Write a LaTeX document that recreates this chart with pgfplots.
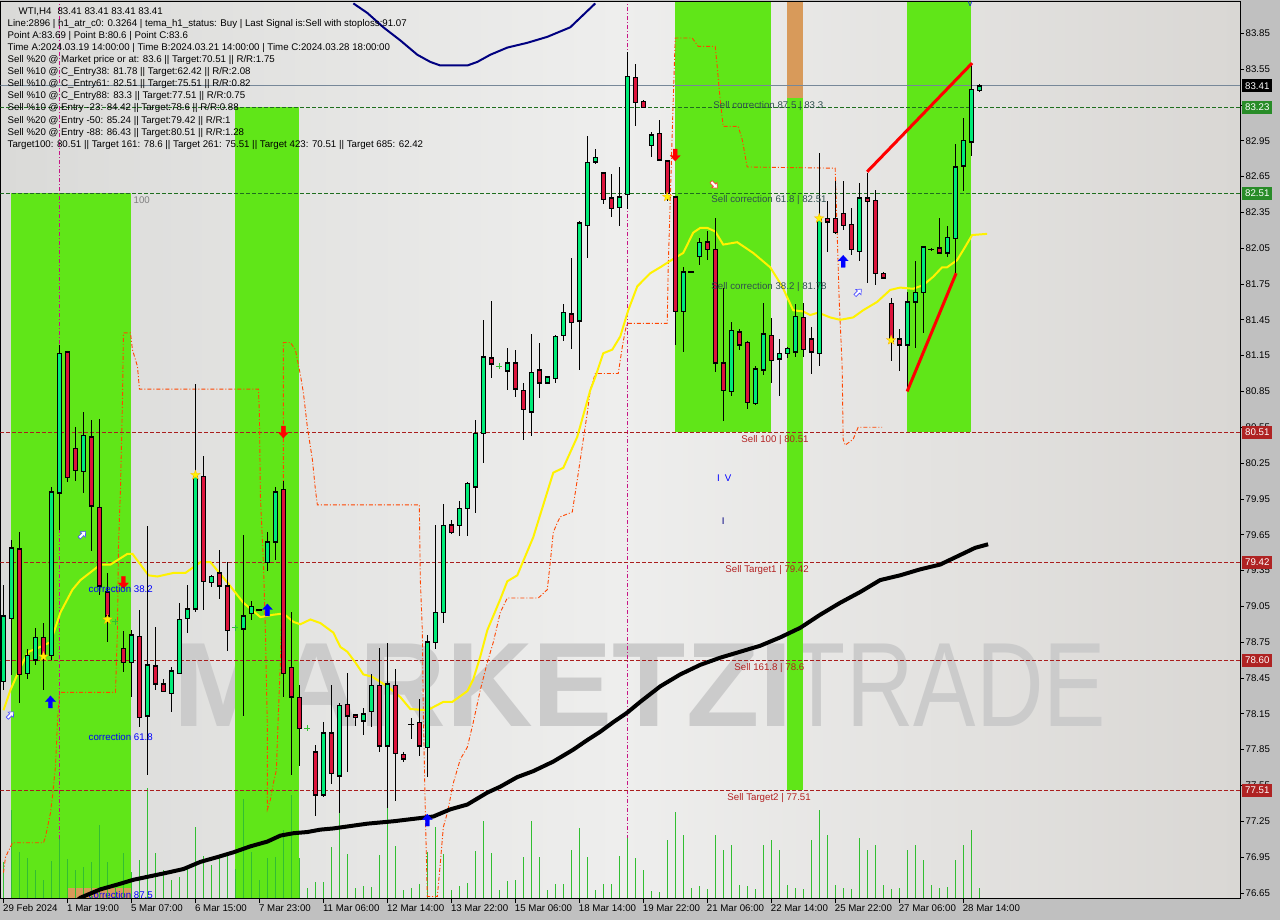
\documentclass[border=0pt]{standalone}
\usepackage{fontspec}
\setmainfont{Liberation Sans}
\usepackage{pgfplots}
\usepackage{pgfplotstable}
\pgfplotsset{compat=1.18}

\definecolor{outerbg}{RGB}{192,192,192}
\definecolor{bgL}{RGB}{218,218,216}
\definecolor{bgM}{RGB}{238,238,237}
\definecolor{bgR}{RGB}{217,215,212}
\definecolor{bandgreen}{RGB}{96,230,24}
\definecolor{bandorange}{RGB}{216,154,90}
\definecolor{upgreen}{RGB}{0,235,120}
\definecolor{downred}{RGB}{220,20,60}
\definecolor{volgreen}{RGB}{50,190,50}
\definecolor{dkgreen}{RGB}{30,110,30}
\definecolor{dkred}{RGB}{170,30,30}
\definecolor{slateline}{RGB}{119,136,153}
\definecolor{magline}{RGB}{199,21,133}
\definecolor{trail}{RGB}{255,69,0}
\definecolor{navyline}{RGB}{0,0,128}
\definecolor{wmark}{RGB}{203,203,203}
\definecolor{labgray}{RGB}{47,79,79}
\definecolor{boxgreen}{RGB}{40,140,40}
\definecolor{boxred}{RGB}{175,35,35}
\definecolor{sellred}{RGB}{178,34,34}

\pgfdeclareplotmark{arrowup}{%
  \pgfpathmoveto{\pgfqpoint{0pt}{6pt}}%
  \pgfpathlineto{\pgfqpoint{5pt}{0.5pt}}%
  \pgfpathlineto{\pgfqpoint{2pt}{0.5pt}}%
  \pgfpathlineto{\pgfqpoint{2pt}{-6pt}}%
  \pgfpathlineto{\pgfqpoint{-2pt}{-6pt}}%
  \pgfpathlineto{\pgfqpoint{-2pt}{0.5pt}}%
  \pgfpathlineto{\pgfqpoint{-5pt}{0.5pt}}%
  \pgfpathclose\pgfusepathqfillstroke}
\pgfdeclareplotmark{fstar}{%
  \pgfpathmoveto{\pgfqpoint{0pt}{5pt}}%
  \pgfpathlineto{\pgfqpoint{-1.176pt}{1.618pt}}%
  \pgfpathlineto{\pgfqpoint{-4.755pt}{1.545pt}}%
  \pgfpathlineto{\pgfqpoint{-1.902pt}{-0.618pt}}%
  \pgfpathlineto{\pgfqpoint{-2.939pt}{-4.045pt}}%
  \pgfpathlineto{\pgfqpoint{0pt}{-2pt}}%
  \pgfpathlineto{\pgfqpoint{2.939pt}{-4.045pt}}%
  \pgfpathlineto{\pgfqpoint{1.902pt}{-0.618pt}}%
  \pgfpathlineto{\pgfqpoint{4.755pt}{1.545pt}}%
  \pgfpathlineto{\pgfqpoint{1.176pt}{1.618pt}}%
  \pgfpathclose\pgfusepathqfillstroke}

\pgfplotsset{
  keepup/.style={restrict expr to domain={\thisrow{t}}{0.5:1.5}},
  keepdown/.style={restrict expr to domain={\thisrow{t}}{1.5:2.5}},
  keepdoji/.style={restrict expr to domain={\thisrow{t}}{2.5:3.5}},
  keepplus/.style={restrict expr to domain={\thisrow{t}}{3.5:4.5}},
  chartgeom/.style={width=1240pt, height=897pt, scale only axis,
    at={(0pt,21pt)}, anchor=south west, xmin=-0.375, xmax=154.625},
}

% t: 1 = up candle, 2 = down candle, 3 = doji, 4 = small green cross
\pgfplotstableread{
i o h l c t
0 78.42 79.23 78.35 78.97 1
1 78.95 79.61 78.48 79.54 1
2 79.53 79.67 78.24 78.48 2
3 78.49 78.69 78.44 78.64 1
4 78.60 78.87 78.56 78.79 1
5 78.79 78.91 78.35 78.63 2
6 78.64 80.05 78.60 80.01 1
7 80.00 81.24 79.69 81.17 1
8 81.18 81.19 80.09 80.13 2
9 80.37 80.55 80.10 80.19 2
10 80.18 80.68 80.00 80.48 1
11 80.47 80.61 79.51 79.89 2
12 79.88 80.62 79.15 79.22 2
13 79.17 79.33 78.75 78.97 2
14 78.92 78.93 78.91 78.92 4
15 78.70 78.84 78.50 78.58 2
16 78.58 78.85 78.29 78.81 1
17 78.80 79.02 78.04 78.12 2
18 78.13 79.72 77.64 78.56 1
19 78.55 78.88 78.35 78.40 2
20 78.40 78.44 78.33 78.34 2
21 78.32 78.54 78.17 78.51 1
22 78.49 79.08 78.48 78.94 1
23 78.95 79.23 78.83 79.03 1
24 79.03 80.91 79.00 80.14 1
25 80.14 80.31 79.02 79.26 2
26 79.25 79.31 79.21 79.30 1
27 79.33 79.52 79.11 79.22 2
28 79.22 79.42 78.68 78.85 2
29 78.87 78.88 78.86 78.87 4
30 78.86 79.65 78.13 78.97 1
31 78.99 79.10 78.94 79.05 1
32 79.02 79.03 79.01 79.02 3
33 79.42 79.67 79.35 79.59 1
34 79.59 80.05 79.44 80.01 1
35 80.03 80.10 78.29 78.49 2
36 78.54 79.00 77.64 78.29 2
37 78.29 78.39 77.71 78.03 2
38 78.03 78.04 78.02 78.03 4
39 77.83 77.89 77.29 77.47 2
40 77.47 78.08 77.45 77.99 1
41 77.99 78.39 77.56 77.65 2
42 77.63 78.24 77.32 78.22 1
43 78.23 78.49 77.66 78.13 2
44 78.14 78.15 78.05 78.12 2
45 78.09 78.20 77.97 78.15 1
46 78.17 78.48 78.04 78.39 1
47 78.39 78.70 77.83 77.88 2
48 77.88 78.74 77.36 78.40 1
49 78.39 78.53 77.42 77.82 2
50 77.81 77.83 77.75 77.77 2
51 78.06 78.12 77.94 78.06 3
52 78.08 78.27 77.80 77.88 2
53 77.87 78.81 77.62 78.75 1
54 78.75 79.73 78.69 79.00 1
55 79.00 79.91 78.91 79.73 1
56 79.73 79.77 79.66 79.67 2
57 79.73 79.93 79.64 79.87 1
58 79.87 80.09 79.64 80.08 1
59 80.05 80.61 79.83 80.50 1
60 80.50 81.45 80.25 81.14 1
61 81.13 81.61 80.96 81.08 2
62 81.06 81.07 81.05 81.06 4
63 81.02 81.21 80.86 81.09 1
64 81.09 81.20 80.80 80.87 2
65 80.86 80.92 80.44 80.70 2
66 80.68 81.33 80.48 81.01 1
67 81.03 81.26 80.80 80.92 2
68 80.92 80.98 80.91 80.97 1
69 80.96 81.32 80.92 81.31 1
70 81.32 81.58 81.27 81.51 1
71 81.50 81.97 81.21 81.43 2
72 81.44 82.28 81.03 82.26 1
73 82.24 82.99 81.97 82.77 1
74 82.77 82.88 82.76 82.81 1
75 82.68 82.69 82.42 82.46 2
76 82.47 82.67 82.31 82.38 2
77 82.39 82.73 82.24 82.48 1
78 82.50 83.69 82.38 83.49 1
79 83.48 83.59 83.07 83.27 2
80 83.28 83.29 83.22 83.23 2
81 82.91 83.02 82.81 83.00 1
82 83.01 83.12 82.78 82.79 2
83 82.78 82.79 82.45 82.51 2
84 82.48 82.49 81.24 81.52 2
85 81.52 81.89 81.18 81.85 1
86 81.85 81.86 81.84 81.85 3
87 81.98 82.14 81.91 82.10 1
88 82.10 82.19 81.95 82.04 2
89 82.04 82.30 81.01 81.09 2
90 81.09 81.72 80.60 80.86 2
91 80.85 81.43 80.81 81.36 1
92 81.35 81.37 81.20 81.24 2
93 81.26 81.27 80.70 80.76 2
94 80.75 81.06 80.74 81.04 1
95 81.03 81.59 80.99 81.33 1
96 81.32 81.47 80.92 81.11 2
97 81.12 81.29 80.81 81.17 1
98 81.17 81.22 81.13 81.21 1
99 81.18 81.58 81.14 81.48 1
100 81.47 81.59 81.14 81.20 2
101 81.29 81.39 81.00 81.18 2
102 81.17 82.85 81.06 82.30 1
103 82.30 82.45 82.02 82.27 2
104 82.30 82.61 82.17 82.18 2
105 82.34 82.61 82.20 82.24 2
106 82.25 82.39 81.99 82.04 2
107 82.02 82.60 81.94 82.47 1
108 82.47 82.68 81.76 82.44 2
109 82.45 82.54 81.74 81.84 2
110 81.84 81.85 81.79 81.80 2
111 81.59 81.63 81.11 81.27 2
112 81.29 81.37 81.02 81.24 2
113 81.24 81.68 80.86 81.60 1
114 81.60 81.94 81.21 81.68 1
115 81.68 82.07 81.34 82.06 1
116 82.04 82.05 82.03 82.04 3
117 82.05 82.30 82.00 82.01 2
118 82.01 82.24 81.98 82.14 1
119 82.13 82.92 81.84 82.73 1
120 82.74 83.14 82.53 82.95 1
121 82.94 83.60 82.82 83.38 1
122 83.37 83.43 83.36 83.41 1
}\candles

\pgfplotstableread{
i v
0 37
1 89
2 47
3 41
4 29
5 19
6 38
7 60
8 40
9 29
10 32
11 37
12 74
13 37
14 11
15 46
16 27
17 39
18 111
19 46
20 29
21 19
22 22
23 31
24 72
25 43
26 34
27 41
28 47
29 30
30 100
31 47
32 19
33 41
34 42
35 69
36 104
37 41
38 11
39 17
40 17
41 52
42 86
43 45
44 11
45 13
46 12
47 44
48 91
49 53
50 9
51 11
52 15
53 47
54 72
55 45
56 9
57 13
58 16
59 48
60 78
61 46
62 9
63 18
64 19
65 42
66 78
67 42
68 9
69 15
70 15
71 49
72 71
73 42
74 9
75 15
76 15
77 43
78 61
79 41
80 29
81 8
82 7
83 59
84 87
85 64
86 11
87 13
88 10
89 64
90 49
91 54
92 14
93 13
94 10
95 54
96 59
97 49
98 14
99 11
100 10
101 59
102 89
103 64
104 14
105 11
106 10
107 61
108 49
109 54
110 14
111 10
112 11
113 49
114 54
115 39
116 14
117 11
118 12
119 39
120 54
121 69
122 11
}\volumes

\begin{document}
\begin{tikzpicture}[x=1pt,y=1pt]
\fill[outerbg] (0,0) rectangle (1280,920);
\shade[left color=bgL, right color=bgR, middle color=bgM] (0,21) rectangle (1240,918);

% ---------- layer 1: watermark, bands, verticals
\begin{axis}[chartgeom, ymin=76.602, ymax=84.112, hide axis]
\node[anchor=base west, inner sep=0pt, text=wmark, font=\fontsize{120}{120}\selectfont\bfseries] at (axis cs:21.2,78.04) {MARKETZI};
\node[anchor=base west, inner sep=0pt, text=wmark, font=\fontsize{120}{120}\selectfont, xscale=0.78] at (axis cs:98.2,78.04) {TRADE};
\addplot[fill=bandgreen, draw=none] coordinates {(1,76.5) (1,82.51) (16,82.51) (16,76.5)};
\addplot[fill=bandgreen, draw=none] coordinates {(29,76.5) (29,83.23) (37,83.23) (37,76.5)};
\addplot[fill=bandgreen, draw=none] coordinates {(84,80.51) (84,84.2) (96,84.2) (96,80.51)};
\addplot[fill=bandgreen, draw=none] coordinates {(98,77.51) (98,83.31) (100,83.31) (100,77.51)};
\addplot[fill=bandorange, draw=none] coordinates {(98,83.31) (98,84.2) (100,84.2) (100,83.31)};
\addplot[fill=bandgreen, draw=none] coordinates {(113,80.51) (113,84.2) (121,84.2) (121,80.51)};
\addplot[fill=bandorange, draw=none] coordinates {(8.125,76.5) (8.125,76.69) (16,76.69) (16,76.5)};
\addplot[magline, line width=1pt, dash pattern=on 4pt off 2pt on 1pt off 2pt] coordinates {(7,76.5) (7,84.2)};
\addplot[magline, line width=1pt, dash pattern=on 4pt off 2pt on 1pt off 2pt] coordinates {(78,76.5) (78,84.2)};
\node[anchor=west, inner sep=0pt, text=blue, font=\fontsize{9.7}{11}\selectfont] at (axis cs:10.625,76.636) {correction 87.5};
\end{axis}

% ---------- layer 2: volumes (shifted half a pixel so each line fills one pixel column)
\begin{axis}[chartgeom, ymin=0, ymax=897, hide axis]
\addplot[ycomb, color=volgreen, line width=1pt, mark=none] table[x expr={\thisrow{i}+0.0625}, y=v] {\volumes};
\end{axis}

% ---------- layer 3: price chart
\begin{axis}[chartgeom, ymin=76.602, ymax=84.112,
  clip mode=individual,
  axis line style={black, line width=1pt},
  tick align=outside, major tick length=4pt,
  tick style={black, line width=0.8pt},
  xtick pos=left, ytick pos=right, yticklabel pos=right,
  xtick={0,8,...,120},
  xticklabels={29 Feb 2024,1 Mar 19:00,5 Mar 07:00,6 Mar 15:00,7 Mar 23:00,11 Mar 06:00,12 Mar 14:00,13 Mar 22:00,15 Mar 06:00,18 Mar 14:00,19 Mar 22:00,21 Mar 06:00,22 Mar 14:00,25 Mar 22:00,27 Mar 06:00,28 Mar 14:00},
  ytick={76.65,76.95,77.25,77.55,77.85,78.15,78.45,78.75,79.05,79.35,79.65,79.95,80.25,80.55,80.85,81.15,81.45,81.75,82.05,82.35,82.65,82.95,83.25,83.55,83.85},
  /pgf/number format/assume math mode=true,
  yticklabel style={/pgf/number format/fixed, /pgf/number format/fixed zerofill, /pgf/number format/precision=2, anchor=west, inner sep=1.5pt},
  xticklabel style={anchor=north west, xshift=-2pt, inner sep=1.5pt},
  ticklabel style={font=\fontsize{9.7}{11}\selectfont, text=black},
]
% horizontal levels
\addplot[slateline, line width=1pt] coordinates {(-0.375,83.41) (154.625,83.41)};
\addplot[dkgreen, line width=1pt, dash pattern=on 4pt off 2pt] coordinates {(-0.375,83.23) (154.625,83.23)};
\addplot[dkgreen, line width=1pt, dash pattern=on 4pt off 2pt] coordinates {(-0.375,82.51) (154.625,82.51)};
\addplot[dkred, line width=1pt, dash pattern=on 4pt off 2pt] coordinates {(-0.375,80.51) (154.625,80.51)};
\addplot[dkred, line width=1pt, dash pattern=on 4pt off 2pt] coordinates {(-0.375,79.42) (154.625,79.42)};
\addplot[dkred, line width=1pt, dash pattern=on 4pt off 2pt] coordinates {(-0.375,78.60) (154.625,78.60)};
\addplot[dkred, line width=1pt, dash pattern=on 4pt off 2pt] coordinates {(-0.375,77.51) (154.625,77.51)};

% trailing stop step line
\addplot[trail, line width=0.9pt, dash pattern=on 4pt off 2pt on 1pt off 2pt] coordinates {
(0,76.82) (0.25,76.95) (1.125,77.07) (5,77.07) (5.25,77.12) (5.875,77.32) (6.125,77.46) (6.5,77.71) (6.75,78.08) (7,78.33) (14,78.33) (14.25,78.85) (14.375,79.55) (14.625,80.03) (14.875,80.76) (15,81.34) (15.875,81.34) (16.125,81.20) (16.75,81.06) (17,80.87) (31.875,80.87) (32,80.67) (32.125,79.97) (32.5,79.42) (32.75,78.85) (33,78.02) (33,77.35) (33.375,77.43) (33.75,77.57) (34.125,77.68) (34.375,78.16) (34.625,78.58) (34.875,79.27) (35,80.11) (35,81.26) (35.875,81.26) (36.5,81.20) (37.125,80.99) (37.5,80.84) (38,80.55) (38.625,80.28) (39,80.03) (39.25,79.90) (52,79.90) (52.125,79.27) (52.375,78.85) (52.5,78.16) (52.75,77.32) (53,76.62) (54.25,76.62) (54.625,76.90) (55,77.20) (55.5,77.32) (56.25,77.57) (57.125,77.77) (58,77.87) (58.75,78.08) (59.625,78.35) (60.5,78.58) (61.25,78.75) (62.125,79.00) (63,79.12) (66.875,79.12) (68,79.19) (68.375,79.42) (68.75,79.67) (69.25,79.75) (69.625,79.80) (71.125,79.84) (71.75,80.11) (72.375,80.39) (73,80.67) (73.375,80.86) (74,81.00) (76.875,81.00) (77.375,81.22) (77.75,81.36) (78,81.42) (83,81.42) (83.125,81.89) (83.375,82.45) (83.75,83.29) (84,83.81) (86.125,83.81) (86.875,83.74) (89,83.74) (89.25,83.57) (89.625,83.29) (90,83.07) (91.875,83.07) (92.375,82.96) (93,82.73) (104,82.72) (104.25,82.18) (104.5,81.62) (104.875,81.06) (105,80.45) (105.25,80.40) (106.25,80.45) (106.875,80.55) (109.875,80.55)};

% black long MA
\addplot[black, line width=4pt] coordinates {
(8.5,76.55) (9.625,76.61) (12.125,76.68) (14.25,76.72) (16.25,76.76) (18.375,76.79) (20.5,76.82) (22.5,76.85) (24.625,76.91) (26.75,76.95) (28.75,76.99) (30.875,77.04) (33,77.08) (34.625,77.13) (36.25,77.15) (38,77.16) (39.625,77.18) (41.25,77.19) (45.5,77.23) (48.75,77.25) (52.5,77.28) (53.75,77.29) (55.875,77.35) (58,77.39) (60.5,77.49) (62.125,77.54) (64.25,77.62) (66.25,77.67) (68.75,77.75) (71.25,77.85) (73,77.93) (74.625,78.00) (76.25,78.08) (78,78.16) (79.625,78.25) (82.125,78.38) (84.625,78.48) (87.125,78.56) (89.625,78.62) (92.125,78.67) (94.625,78.72) (97.125,78.79) (99.625,78.87) (102.125,78.98) (104.625,79.08) (107.125,79.17) (109.625,79.27) (112.125,79.31) (114.625,79.36) (117.125,79.40) (119.625,79.48) (121.5,79.54) (123.125,79.57)};

% yellow MA
\addplot[yellow, line width=2pt] coordinates {
(0,78.18) (0.875,78.35) (2.125,78.54) (3.125,78.67) (4.25,78.70) (5.875,78.75) (7.125,79.00) (8.625,79.19) (9.625,79.27) (12.125,79.40) (13.375,79.40) (15.5,79.49) (16.125,79.49) (18.125,79.31) (19.25,79.30) (21.25,79.33) (22.75,79.33) (24.625,79.42) (25.875,79.42) (28,79.25) (30,79.08) (32.125,78.96) (33.75,78.98) (35,78.99) (36.25,78.92) (37.125,78.90) (38.375,78.94) (39.625,78.91) (41.25,78.83) (42.125,78.71) (43,78.67) (44,78.58) (45,78.48) (46.125,78.46) (48,78.38) (49.625,78.29) (50.875,78.19) (53,78.18) (55,78.25) (56.125,78.25) (58,78.34) (58.75,78.44) (59.625,78.63) (60.5,78.85) (62.125,79.11) (63,79.26) (64.25,79.31) (66.25,79.63) (68.75,80.17) (70,80.21) (71.75,80.47) (73.375,80.86) (74,80.97) (75,81.17) (76.125,81.20) (77.125,81.31) (78.125,81.53) (79.25,81.73) (80.875,81.84) (82.125,81.89) (84,81.97) (85,82.01) (86.25,82.18) (87.125,82.22) (88,82.22) (89,82.19) (90,82.08) (91.75,82.10) (93.75,82.01) (95.875,81.89) (97.375,81.73) (98.75,81.53) (100,81.52) (100.875,81.49) (101.875,81.51) (103.375,81.47) (104.625,81.45) (106.25,81.47) (107.5,81.53) (109.25,81.60) (110.875,81.70) (112.125,81.72) (113.75,81.71) (115,81.74) (116.25,81.81) (117.375,81.89) (118,81.89) (119.25,81.95) (120.25,82.06) (121.125,82.16) (123,82.17)};

% navy line
\addplot[navyline, line width=2pt] coordinates {
(43.75,84.10) (45.5,84.02) (47.5,83.90) (49.625,83.79) (51.75,83.67) (53.375,83.61) (54.625,83.58) (56.125,83.58) (58,83.58) (59.25,83.61) (60.875,83.67) (63,83.73) (65.5,83.77) (68,83.82) (70.875,83.90) (72.125,83.98) (74,84.10)};

% candles: wicks
\addplot[draw=none, mark=none, error bars/.cd, y dir=both, y explicit, error mark=none,
  error bar style={draw=black, solid, line width=1pt}]
  table[x=i, y expr={(\thisrow{h}+\thisrow{l})/2}, y error expr={(\thisrow{h}-\thisrow{l})/2}] {\candles};
% bodies (outline)
\addplot[draw=none, mark=none, keepup, error bars/.cd, y dir=both, y explicit, error mark=none,
  error bar style={draw=black, solid, line width=5pt}]
  table[x=i, y expr={(\thisrow{o}+\thisrow{c})/2}, y error expr={abs(\thisrow{c}-\thisrow{o})/2+0.006}] {\candles};
\addplot[draw=none, mark=none, keepdown, error bars/.cd, y dir=both, y explicit, error mark=none,
  error bar style={draw=black, solid, line width=5pt}]
  table[x=i, y expr={(\thisrow{o}+\thisrow{c})/2}, y error expr={abs(\thisrow{c}-\thisrow{o})/2+0.006}] {\candles};
% bodies (fill)
\addplot[draw=none, mark=none, keepup, error bars/.cd, y dir=both, y explicit, error mark=none,
  error bar style={draw=upgreen, solid, line width=3pt}]
  table[x=i, y expr={(\thisrow{o}+\thisrow{c})/2}, y error expr={max(abs(\thisrow{c}-\thisrow{o})/2-0.006,0)}] {\candles};
\addplot[draw=none, mark=none, keepdown, error bars/.cd, y dir=both, y explicit, error mark=none,
  error bar style={draw=downred, solid, line width=3pt}]
  table[x=i, y expr={(\thisrow{o}+\thisrow{c})/2}, y error expr={max(abs(\thisrow{c}-\thisrow{o})/2-0.006,0)}] {\candles};
% doji
\addplot[only marks, mark=-, mark size=3pt, black, line width=1.2pt, keepdoji] table[x=i, y=c] {\candles};
\addplot[only marks, mark=+, mark size=3pt, volgreen, line width=1pt, keepplus] table[x=i, y=c] {\candles};

% red trend lines
\addplot[red, line width=3pt] coordinates {(108,82.69) (121.125,83.60)};
\addplot[red, line width=3pt] coordinates {(113,80.85) (119.125,81.84)};

% arrows and stars
\addplot[only marks, mark=arrowup, mark options={fill=blue, draw=blue, line width=0.3pt}] coordinates {(5.875,78.25) (33,79.02) (53,77.26) (105,81.94)};
\addplot[only marks, mark=arrowup, mark options={fill=red, draw=red, line width=0.3pt, rotate=180}] coordinates {(15,79.25) (35,80.51) (84,82.83)};
\addplot[only marks, mark=arrowup, mark options={fill=white, draw=blue!70, line width=0.6pt, rotate=-45, scale=0.75}] coordinates {(0.875,78.14) (9.875,79.65) (106.875,81.68)};
\addplot[only marks, mark=arrowup, mark options={fill=white, draw=red!80, line width=0.6pt, rotate=-135, scale=0.75}] coordinates {(88.875,82.58)};
\addplot[only marks, mark=fstar, mark options={fill=yellow, draw=orange!60!yellow, line width=0.3pt}] coordinates {(5,78.63) (13,78.94) (24,80.15) (83,82.48) (102,82.30) (111,81.28)};

% labels
\begin{scope}[every node/.style={inner sep=0pt, font=\fontsize{9.7}{11}\selectfont}]
\node[anchor=west, text=labgray] at (axis cs:88.75,83.24) {Sell correction 87.5 | 83.3};
\node[anchor=west, text=labgray] at (axis cs:88.5,82.454) {Sell correction 61.8 | 82.51};
\node[anchor=west, text=labgray] at (axis cs:88.5,81.726) {Sell correction 38.2 | 81.78};
\node[anchor=west, text=sellred] at (axis cs:92.25,80.445) {Sell 100 | 80.51};
\node[anchor=west, text=sellred] at (axis cs:90.25,79.357) {Sell Target1 | 79.42};
\node[anchor=west, text=sellred] at (axis cs:91.375,78.536) {Sell 161.8 | 78.6};
\node[anchor=west, text=sellred] at (axis cs:90.5,77.448) {Sell Target2 | 77.51};
\node[anchor=west, text=blue] at (axis cs:10.625,79.197) {correction 38.2};
\node[anchor=west, text=blue] at (axis cs:10.625,77.958) {correction 61.8};
\node[anchor=west, text=gray] at (axis cs:16.25,82.454) {100};
\node[anchor=center, text=blue] at (axis cs:90.125,80.127) {I\hspace{5pt}V};
\node[anchor=center, text=navyline] at (axis cs:90,79.76) {I};
\node[anchor=north, text=blue, font=\fontsize{7}{8}\selectfont] at (axis cs:120.875,84.112) {V};
\end{scope}

\coordinate (b1) at (axis cs:154.625,83.41);
\coordinate (b2) at (axis cs:154.625,83.23);
\coordinate (b3) at (axis cs:154.625,82.51);
\coordinate (b4) at (axis cs:154.625,80.51);
\coordinate (b5) at (axis cs:154.625,79.42);
\coordinate (b6) at (axis cs:154.625,78.60);
\coordinate (b7) at (axis cs:154.625,77.51);
\end{axis}

% price boxes
\begin{scope}[every node/.style={anchor=west, inner xsep=3pt, inner ysep=0pt, minimum height=13pt, font=\fontsize{9.7}{11}\selectfont, text=white}]
\node[fill=black] at ([xshift=2pt]b1) {83.41};
\node[fill=boxgreen] at ([xshift=2pt]b2) {83.23};
\node[fill=boxgreen] at ([xshift=2pt]b3) {82.51};
\node[fill=boxred] at ([xshift=2pt]b4) {80.51};
\node[fill=boxred] at ([xshift=2pt]b5) {79.42};
\node[fill=boxred] at ([xshift=2pt]b6) {78.60};
\node[fill=boxred] at ([xshift=2pt]b7) {77.51};
\end{scope}

% info text block
\begin{scope}[every node/.style={anchor=base west, inner sep=0pt, font=\fontsize{9.7}{11}\selectfont, text=black}]
\node at (18,905.8) {WTI,H4\hspace{6pt}83.41 83.41 83.41 83.41};
\node at (7,893.7) {Line:2896 | h1\_atr\_c0: 0.3264 | tema\_h1\_status: Buy | Last Signal is:Sell with stoploss:91.07};
\node at (7,881.6) {Point A:83.69 | Point B:80.6 | Point C:83.6};
\node at (7,869.5) {Time A:2024.03.19 14:00:00 | Time B:2024.03.21 14:00:00 | Time C:2024.03.28 18:00:00};
\node at (7,857.4) {Sell \%20 @ Market price or at: 83.6 || Target:70.51 || R/R:1.75};
\node at (7,845.3) {Sell \%10 @ C\_Entry38: 81.78 || Target:62.42 || R/R:2.08};
\node at (7,833.2) {Sell \%10 @ C\_Entry61: 82.51 || Target:75.51 || R/R:0.82};
\node at (7,821.1) {Sell \%10 @ C\_Entry88: 83.3 || Target:77.51 || R/R:0.75};
\node at (7,809.0) {Sell \%10 @ Entry -23: 84.42 || Target:78.6 || R/R:0.88};
\node at (7,796.9) {Sell \%20 @ Entry -50: 85.24 || Target:79.42 || R/R:1};
\node at (7,784.8) {Sell \%20 @ Entry -88: 86.43 || Target:80.51 || R/R:1.28};
\node at (7,772.7) {Target100: 80.51 || Target 161: 78.6 || Target 261: 75.51 || Target 423: 70.51 || Target 685: 62.42};
\end{scope}
\end{tikzpicture}
\end{document}
